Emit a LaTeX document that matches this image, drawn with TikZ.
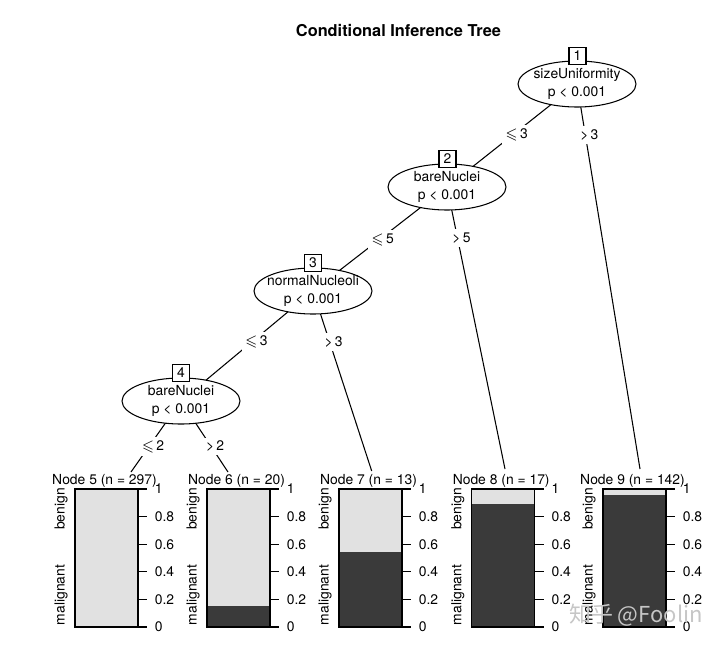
\documentclass[tikz,border=0pt]{standalone}
\usepackage{fontspec}
\usepackage{amssymb}
\setmainfont{TeX Gyre Heros}
\newfontfamily\cjkfont{Noto Sans CJK SC}
\usetikzlibrary{shapes.geometric,backgrounds}
\definecolor{bardark}{HTML}{3A3A3A}
\definecolor{barlight}{HTML}{E1E1E1}
\begin{document}
\begin{tikzpicture}[x=0.02cm,y=-0.02cm,
  txt/.style={font=\fontsize{7.9}{10.5}\selectfont, inner sep=0pt},
  inner/.style={ellipse, draw, line width=0.6pt, fill=white, minimum width=2.36cm, minimum height=0.92cm, inner sep=0pt},
  itext/.style={txt, align=center},
  idbox/.style={draw, line width=0.6pt, fill=white, minimum width=0.34cm, minimum height=0.34cm, inner sep=0pt, font=\fontsize{7.9}{9}\selectfont},
  edge/.style={line width=0.6pt},
  lbl/.style={txt, fill=white, inner sep=2pt, xshift=0.08cm},
  hdr/.style={txt},
  tick/.style={txt, anchor=west},
  cat/.style={txt, rotate=90}
]
\useasboundingbox (0,0) rectangle (720,646);

% title
\node[font=\bfseries\fontsize{9.3}{11}\selectfont, inner sep=0pt] (title) at (398.5,31) {Conditional Inference Tree};

% inner nodes
\node[inner] (n1) at (577,84) {};
\node[itext] (n1t) at (n1) {sizeUniformity\\p < 0.001};
\node[idbox] (n1id) at (577.5,56) {1};

\node[inner] (n2) at (447,187) {};
\node[itext] (n2t) at (n2) {bareNuclei\\p < 0.001};
\node[idbox] (n2id) at (447.5,159) {2};

\node[inner] (n3) at (313,291) {};
\node[itext] (n3t) at (n3) {normalNucleoli\\p < 0.001};
\node[idbox] (n3id) at (313,263) {3};

\node[inner] (n4) at (181,401) {};
\node[itext] (n4t) at (n4) {bareNuclei\\p < 0.001};
\node[idbox] (n4id) at (181,373) {4};

% terminal edge ends
\coordinate (t5) at (131,472);
\coordinate (t6) at (228,472);
\coordinate (t7) at (371.7,471);
\coordinate (t8) at (505,469);
\coordinate (t9) at (640,469);

\begin{scope}[on background layer]
\draw[edge] (n1.center) -- (n2.center) node[lbl, pos=0.495] {$\leqslant$\,3};
\draw[edge] (n1.center) -- (t9) node[lbl, pos=0.132] {>\,3};
\draw[edge] (n2.center) -- (n3.center) node[lbl, pos=0.51] {$\leqslant$\,5};
\draw[edge] (n2.center) -- (t8) node[lbl, pos=0.181] {>\,5};
\draw[edge] (n3.center) -- (n4.center) node[lbl, pos=0.46] {$\leqslant$\,3};
\draw[edge] (n3.center) -- (t7) node[lbl, pos=0.283] {>\,3};
\draw[edge] (n4.center) -- (t5) node[lbl, pos=0.64] {$\leqslant$\,2};
\draw[edge] (n4.center) -- (t6) node[lbl, pos=0.64] {>\,2};
\end{scope}

% terminal bar charts
\foreach \id/\L/\f/\n in {5/75/0/297, 6/207/0.154/20, 7/339/0.54/13, 8/471.7/0.89/17, 9/603/0.957/142} {
  \fill[barlight] (\L,489) rectangle ++(63,138);
  \fill[bardark] (\L,627) rectangle ++(63,{-138*\f});
  \draw[line width=0.6pt] (\L,489) rectangle ++(63,138);
  \foreach \v in {0,0.2,0.4,0.6,0.8,1} {
    \draw[line width=0.6pt] ({\L+63},{627-138*\v}) -- ++(9,0);
    \node[tick] at ({\L+79.5},{627-138*\v}) {\v};
  }
  \node[hdr] (h\id) at ({\L+29.5},481) {Node \id\ (n = \n)};
  \node[cat] at ({\L-14},509) {benign};
  \node[cat] at ({\L-14},595) {malignant};
}

% watermark
\node[text=gray!45, font=\cjkfont\fontsize{12.5}{14}\selectfont, inner sep=0pt] (wm) at (636,615) {知乎 @Foolin};
\end{tikzpicture}
\end{document}
